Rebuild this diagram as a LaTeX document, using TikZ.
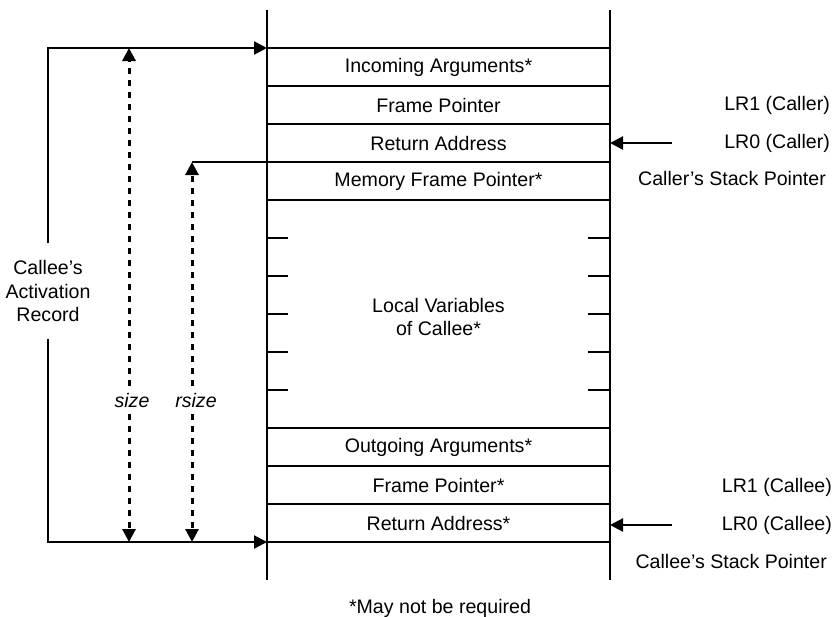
\documentclass[tikz,border=0pt]{standalone}
\usepackage{fontspec}
\setmainfont{Liberation Sans}
\usetikzlibrary{arrows.meta}
\begin{document}
\begin{tikzpicture}[x=0.5pt,y=-0.5pt, line width=1.1pt,
  every node/.style={font=\fontsize{9.8}{11.7}\selectfont, inner sep=0pt},
  tip/.style={-{Triangle[length=6.5pt,width=6.5pt]}},
  dsh/.style={line width=1.5pt, dash pattern=on 3pt off 3pt}]
\useasboundingbox (0,0) rectangle (839,616);
% stack sides
\coordinate (Ltop) at (267,10);
\coordinate (Lbot) at (267,580);
\coordinate (Rtop) at (610,10);
\coordinate (Rbot) at (610,580);
\draw (Ltop) -- (Lbot);
\draw (Rtop) -- (Rbot);
% row separators
\foreach \y in {86,124,200,428,466,504} \draw (267,\y) -- (610,\y);
% ticks in local variables
\foreach \y in {238,276,314,352,390} {
  \draw (267,\y) -- (288,\y);
  \draw (588,\y) -- (610,\y);
}
% row labels
\node (inc) at (438.5,67) {Incoming Arguments*};
\node (fp1) at (438.5,105) {Frame Pointer};
\node (ra1) at (438.5,143) {Return Address};
\node (mfp) at (438.5,181) {Memory Frame Pointer*};
\node[align=center] (lv) at (438.5,317) {Local Variables\\of Callee*};
\node (oa) at (438.5,447) {Outgoing Arguments*};
\node (fp2) at (438.5,485) {Frame Pointer*};
\node (ra2) at (438.5,523) {Return Address*};
% activation record bracket
\node[align=center, inner ysep=8pt] (rec) at (48,291) {Callee’s\\Activation\\Record};
\coordinate (ctop) at (48,48);
\coordinate (cbot) at (48,542);
\coordinate (stop) at (267,48);
\coordinate (sbot) at (267,542);
\draw[tip] (rec.north) -- (ctop) -- (stop);
\draw[tip] (rec.south) -- (cbot) -- (sbot);
\draw (stop) -- (610,48);
\draw (sbot) -- (610,542);
% size
\node[inner ysep=3pt] (sz) at (132,400) {\itshape size};
\coordinate (sztop) at (129,48);
\coordinate (szbot) at (129,542);
\draw[dsh,tip] (sz.north -| sztop) -- (sztop);
\draw[dsh,tip] (sz.south -| szbot) -- (szbot);
% rsize
\node[inner ysep=3pt] (rsz) at (196,400) {\itshape rsize};
\coordinate (rtop) at (192,162);
\coordinate (rbot) at (192,542);
\draw (rtop) -- (610,162);
\draw[dsh,tip] (rsz.north -| rtop) -- (rtop);
\draw[dsh,tip] (rsz.south -| rbot) -- (rbot);
% caller side labels
\coordinate (a1s) at (672,143);
\coordinate (a1e) at (610,143);
\draw[tip] (a1s) -- (a1e);
\node[anchor=east] (lr1a) at (831,105) {LR1 (Caller)};
\node[anchor=east] (lr0a) at (831,143) {LR0 (Caller)};
\node[anchor=east] (spa) at (827,178) {Caller’s Stack Pointer};
% callee side labels
\coordinate (a2s) at (672,525);
\coordinate (a2e) at (610,525);
\draw[tip] (a2s) -- (a2e);
\node[anchor=east] (lr1b) at (833,487) {LR1 (Callee)};
\node[anchor=east] (lr0b) at (833,525) {LR0 (Callee)};
\node[anchor=east] (spb) at (828,561) {Callee’s Stack Pointer};
% footnote
\node (fn) at (440,608) {*May not be required};
\end{tikzpicture}
\end{document}
